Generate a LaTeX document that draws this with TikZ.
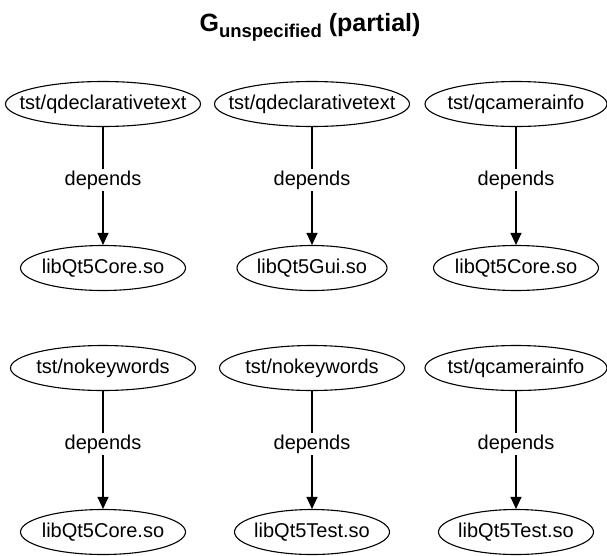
\documentclass[tikz,border=0pt]{standalone}
\usepackage{fontspec}
\setmainfont{Liberation Sans}
\usetikzlibrary{shapes.geometric,arrows.meta}

% label of fixed-size ellipse, centred over zero width
\newcommand{\pkglabel}[1]{\makebox[0pt]{#1}}

\begin{document}
\begin{tikzpicture}[x=1pt,y=1pt,
    pkg/.style={ellipse, draw, line width=1.1pt, inner sep=0pt, minimum height=45pt, font=\fontsize{20}{24}\selectfont},
    dep/.style={draw, line width=1.1pt, -{Triangle[length=12pt,width=11pt]}},
    deplabel/.style={fill=white, inner sep=2pt, font=\fontsize{20}{24}\selectfont}]
\useasboundingbox (0,0) rectangle (607,-555);

\node[anchor=base, font=\bfseries\fontsize{25}{30}\selectfont] (title) at (310,-31)
    {G\raisebox{-6pt}{\fontsize{18.5}{22}\selectfont unspecified} (partial)};

% one column per dependency pair
\foreach \n/\x/\y/\src/\sw/\dst/\dw in {
    a/103/104/{tst/qdeclarativetext}/195/libQt5Core.so/165,
    b/312/104/{tst/qdeclarativetext}/195/libQt5Gui.so/150,
    c/516/104/{tst/qcamerainfo}/182/libQt5Core.so/165,
    d/103/368/{tst/nokeywords}/185/libQt5Core.so/165,
    e/312/368/{tst/nokeywords}/185/libQt5Test.so/155,
    f/516/368/{tst/qcamerainfo}/182/libQt5Test.so/155} {
    \node[pkg, minimum width=\sw pt] (src\n) at (\x,-\y) {\pkglabel{\src}};
    \node[pkg, minimum width=\dw pt] (dst\n) at (\x,-\y-164) {\pkglabel{\dst}};
    \draw[dep] (src\n) -- node[deplabel, pos=0.45] (lbl\n) {depends} (dst\n);
}
\end{tikzpicture}
\end{document}
